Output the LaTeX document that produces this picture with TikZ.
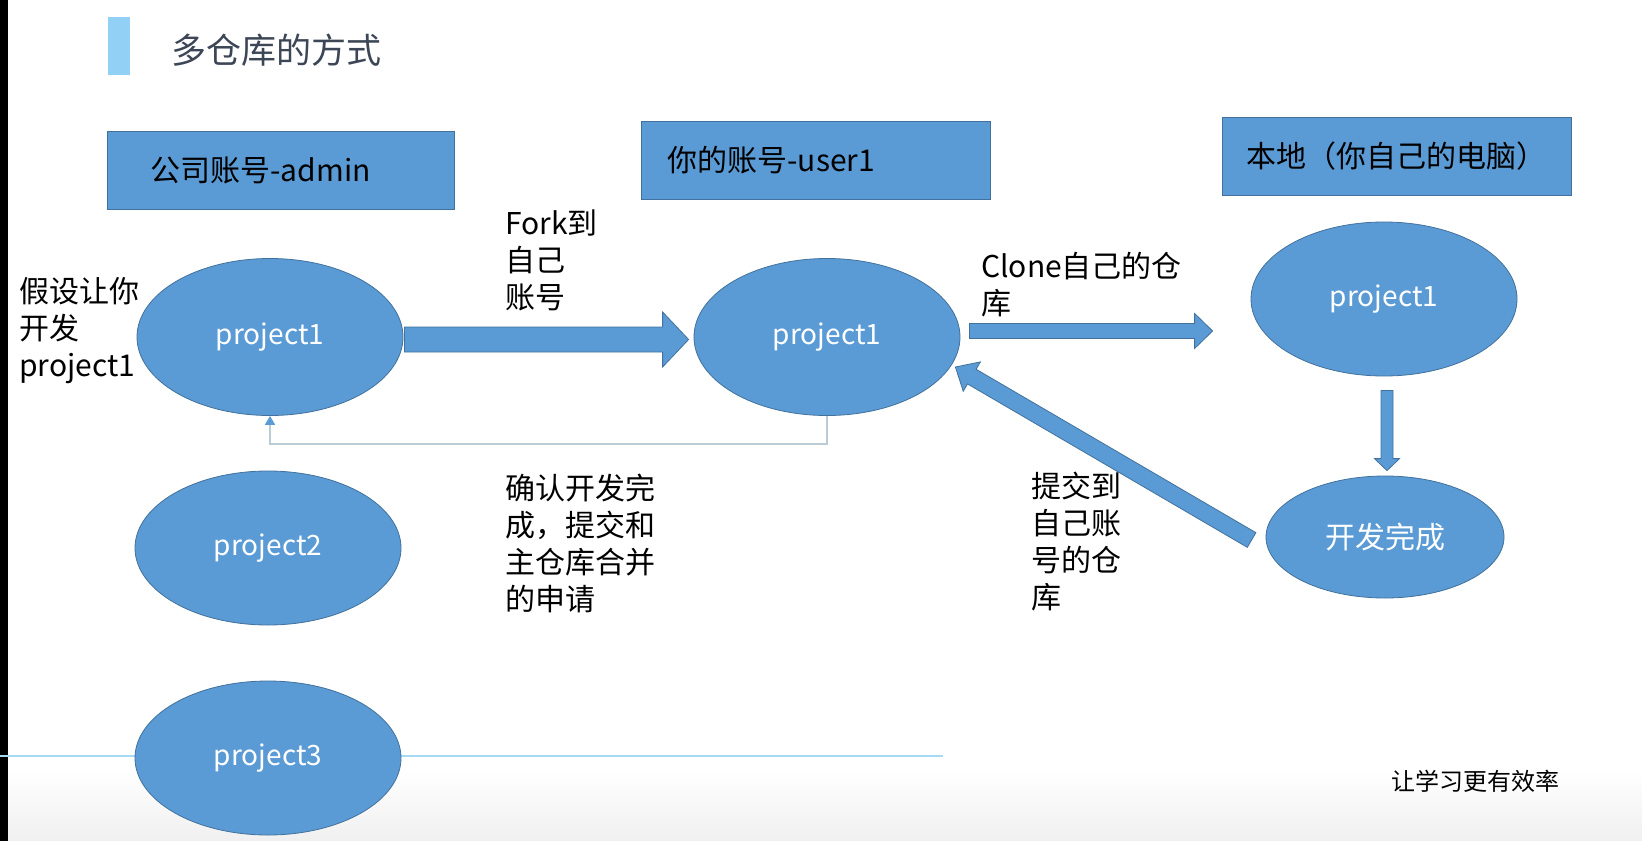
\documentclass[tikz,border=0pt]{standalone}
\usepackage{fontspec}
\setmainfont{Noto Sans CJK SC}
\usetikzlibrary{shapes.geometric,arrows.meta,calc}

\definecolor{blockblue}{HTML}{5B9BD5}
\definecolor{edgeblue}{HTML}{41719C}
\definecolor{accentblue}{HTML}{92D0F5}
\definecolor{titlegray}{HTML}{3C4656}
\definecolor{returnline}{HTML}{B9CCD6}
\definecolor{ruleblue}{HTML}{A6DAF4}

% Filled block arrow from #1 (tail) to #2 (tip):
% #3 half shaft width, #4 half head width, #5 head length
\newcommand{\blockarrow}[5]{%
  \coordinate (ba-q) at ($(#2)!#5!(#1)$);
  \filldraw[fill=blockblue, draw=edgeblue, line width=0.8pt, line join=miter]
    ($(#1)!#3!90:(#2)$) -- ($(ba-q)!#3!90:(#2)$) -- ($(ba-q)!#4!90:(#2)$)
    -- (#2)
    -- ($(ba-q)!#4!-90:(#2)$) -- ($(ba-q)!#3!-90:(#2)$) -- ($(#1)!#3!-90:(#2)$)
    -- cycle;
}

\tikzset{
  acctbox/.style={draw=edgeblue, fill=blockblue, line width=0.8pt,
    anchor=north west, inner ysep=0pt, text=black,
    font=\fontsize{30}{36}\selectfont},
  repo/.style={ellipse, draw=edgeblue, fill=blockblue, line width=0.8pt,
    inner sep=0pt, text=white, font=\fontsize{28}{34}\selectfont},
  note/.style={anchor=north west, align=left, inner sep=0pt, text=black,
    font=\fontsize{30}{37}\selectfont},
  fbline/.style={draw=returnline, line width=1.6pt},
}

\begin{document}
\begin{tikzpicture}[x=1pt, y=-1pt]
  \useasboundingbox (0,0) rectangle (1642,841);
  \fill[white] (0,0) rectangle (1642,841);
  \shade[top color=white, bottom color=black!6] (0,770) rectangle (1642,841);
  \fill[black] (0,0) rectangle (8,841);

  % heading
  \fill[accentblue] (108,17) rectangle (130,75);
  \node[anchor=west, inner sep=0pt, text=titlegray,
        font=\fontsize{35}{40}\selectfont] (title) at (171,50) {多仓库的方式};

  % account headers
  \node[acctbox, minimum width=347pt, minimum height=78pt,
        inner xsep=43pt, text width=261pt, align=left] (hcompany) at (107,131) {公司账号-admin};
  \node[acctbox, minimum width=349pt, minimum height=78pt,
        inner xsep=26pt, text width=297pt, align=left] (hmine) at (641,121) {你的账号-user1};
  \node[acctbox, minimum width=349pt, minimum height=78pt,
        inner xsep=0pt, align=center] (hlocal) at (1222,117) {本地（你自己的电脑）};

  % separator rule behind the lower repository
  \draw[ruleblue, line width=2pt] (0,756) -- (943,756);

  % repositories
  \node[repo, minimum width=266pt, minimum height=157pt] (a1) at (270,337) {project1};
  \node[repo, minimum width=266pt, minimum height=154pt] (a2) at (268,548) {project2};
  \node[repo, minimum width=266pt, minimum height=154pt] (a3) at (268,758) {project3};
  \node[repo, minimum width=266pt, minimum height=157pt] (b1) at (827,337) {project1};
  \node[repo, minimum width=266pt, minimum height=154pt] (c1) at (1384,299) {project1};
  \node[repo, minimum width=238pt, minimum height=122pt,
        font=\fontsize{30}{36}\selectfont] (d1) at (1385,537) {开发完成};

  % pull request line back to the company repository
  \draw[fbline, -{Triangle[width=10pt,length=9pt,color=blockblue]}]
    (b1.south) -- ++(0,28) -| (a1.south);

  % block arrows
  \coordinate (fork-s)  at ($(a1.east)+(1,2.5)$);
  \coordinate (fork-e)  at ($(b1.west)+(-5,2.5)$);
  \coordinate (clone-s) at ($(b1.east)+(9,-6)$);
  \coordinate (clone-e) at ($(c1.west)+(-38,32)$);
  \coordinate (dev-s)   at ($(c1.south)+(3,14)$);
  \coordinate (dev-e)   at ($(d1.north)+(2,-5)$);
  \coordinate (push-s)  at ($(d1.west)+(-14,3)$);
  \coordinate (push-e)  at ($(b1.east)+(-5,30)$);

  \blockarrow{fork-s}{fork-e}{12.5pt}{27.5pt}{26pt}
  \blockarrow{clone-s}{clone-e}{7.5pt}{17.5pt}{18pt}
  \blockarrow{dev-s}{dev-e}{6pt}{12.5pt}{12pt}
  \blockarrow{push-s}{push-e}{8.5pt}{17pt}{19pt}

  % captions
  \node[note] (t-assume) at (19,277) {假设让你\\开发\\project1};
  \node[note] (t-fork)   at (505,210) {Fork到\\自己\\账号};
  \node[note] (t-clone)  at (981,252) {Clone自己的仓\\库};
  \node[note] (t-pr)     at (505,474) {确认开发完\\成，提交和\\主仓库合并\\的申请};
  \node[note] (t-push)   at (1031,472) {提交到\\自己账\\号的仓\\库};
  \node[anchor=west, inner sep=0pt, font=\fontsize{24}{28}\selectfont]
    (slogan) at (1391,781) {让学习更有效率};
\end{tikzpicture}
\end{document}
